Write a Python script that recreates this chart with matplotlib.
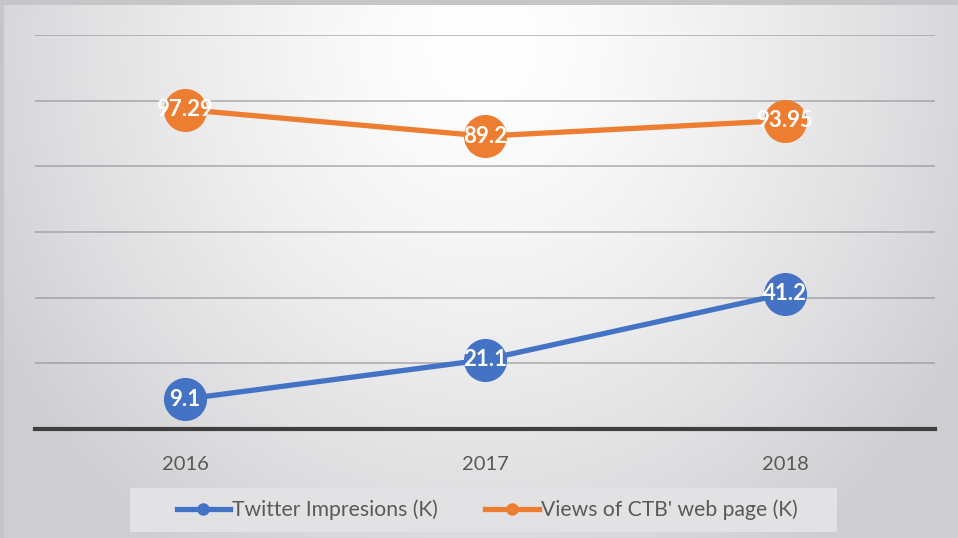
import numpy as np
import matplotlib
matplotlib.use("Agg")
import matplotlib.pyplot as plt
from matplotlib.lines import Line2D
from matplotlib.patches import Rectangle

years = ["2016", "2017", "2018"]
twitter = [9.1, 21.1, 41.2]
views = [97.29, 89.2, 93.95]
series_names = ["Twitter Impresions (K)", "Views of CTB' web page (K)"]
blue = "#4472C4"
orange = "#ED7D31"

plt.rcParams["font.family"] = ["Lato", "DejaVu Sans"]

W, H = 958, 538
fig = plt.figure(figsize=(W / 100, H / 100), dpi=100, facecolor="#c6c6c8")

# soft radial backdrop, brightest near the top centre
bg = fig.add_axes([4 / W, 0, 1 - 4 / W, 1 - 5 / H])
yy, xx = np.mgrid[0:H, 0:W].astype(float)
r = np.sqrt(((xx - 480) / 560) ** 2 + ((yy - 40) / 620) ** 2)
v = 1 - 0.19 * np.clip(r, 0, 1) ** 1.4
img = np.dstack([v, v, v + 0.012 * (1 - v) / 0.19])
bg.imshow(np.clip(img, 0, 1), aspect="auto", extent=[0, 1, 0, 1])
bg.set_axis_off()

ax = fig.add_axes([35 / W, 1 - 429 / H, 900 / W, (429 - 35) / H])
ax.patch.set_alpha(0)
x = np.arange(len(years))
ax.set_xlim(-0.5, len(years) - 0.5)
ax.set_ylim(0, 120)
ax.set_yticks(np.arange(20, 121, 20))
ax.yaxis.grid(True, color="#8c8c90", linewidth=1.4, alpha=0.55)
ax.set_axisbelow(True)
ax.tick_params(axis="y", left=False, labelleft=False)
ax.tick_params(axis="x", bottom=False, labelsize=14.5, labelcolor="#595959", pad=16)
ax.set_xticks(x)
ax.set_xticklabels(years)
for s in ["top", "right", "left"]:
    ax.spines[s].set_visible(False)
ax.spines["bottom"].set_color("#3f3f3f")
ax.spines["bottom"].set_linewidth(3)

for vals, col in [(twitter, blue), (views, orange)]:
    ax.plot(x, vals, color=col, linewidth=3.8, marker="o", markersize=30,
            markerfacecolor=col, markeredgecolor=col, solid_capstyle="round", zorder=3)
    for xi, vi in zip(x, vals):
        ax.text(xi, vi, f"{vi:g}", color="white", fontsize=16, fontweight="bold",
                ha="center", va="center", zorder=4)

# legend panel
fig.patches.append(Rectangle((130 / W, 1 - 532 / H), (837 - 130) / W, 44 / H,
                             transform=fig.transFigure, facecolor="#e2e2e5",
                             edgecolor="none", zorder=1))
handles = [Line2D([], [], color=blue, linewidth=3.8, marker="o", markersize=8),
           Line2D([], [], color=orange, linewidth=3.8, marker="o", markersize=8)]
leg = fig.legend(handles, series_names, loc="center", bbox_to_anchor=(487 / W, 1 - 510 / H),
                 ncol=2, frameon=False, fontsize=15.2, handlelength=2.55,
                 handletextpad=0.1, columnspacing=2.2)
for t in leg.get_texts():
    t.set_color("#595959")

fig.savefig("out.png", dpi=100)
